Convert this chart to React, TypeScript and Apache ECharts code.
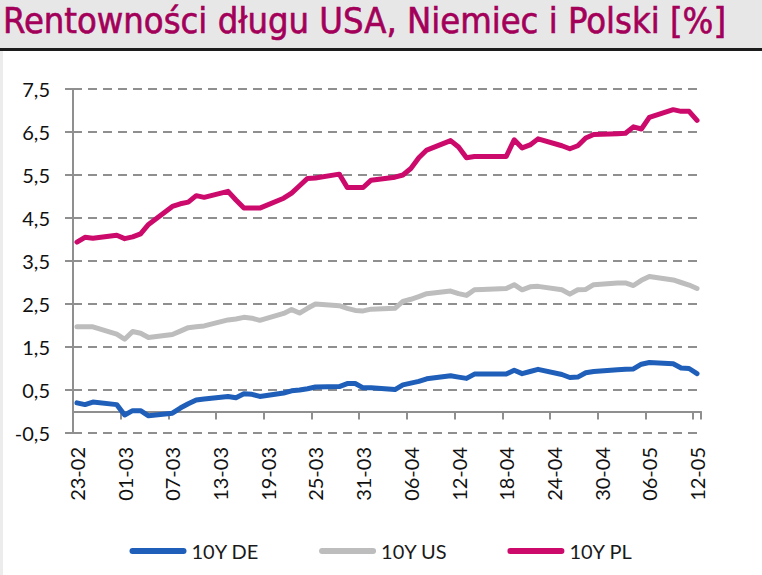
import React, { useEffect, useRef } from "react";
import * as echarts from "echarts";

// Calendar days 23-02 .. 12-05 (weekends carry no quotes)
const startDate = new Date(2022, 1, 23);
const dayCount = 79;
const categories: string[] = Array.from({ length: dayCount }, (_, i) => {
  const d = new Date(startDate.getFullYear(), startDate.getMonth(), startDate.getDate() + i);
  const dd = String(d.getDate()).padStart(2, "0");
  const mm = String(d.getMonth() + 1).padStart(2, "0");
  return `${dd}-${mm}`;
});

const N = null;

// 10Y Bund yield [%]
const yieldDE = [
  0.2, 0.16, 0.22, N, N, 0.16, -0.08, 0.02, 0.02, -0.1, N, N,
  -0.04, 0.08, 0.18, 0.27, 0.29, N, N,
  0.35, 0.32, 0.41, 0.4, 0.35, N, N,
  0.43, 0.48, 0.5, 0.53, 0.57, N, N,
  0.58, 0.65, 0.65, 0.55, 0.55, N, N,
  0.51, 0.62, 0.66, 0.7, 0.76, N, N,
  0.83, 0.8, 0.77, 0.87, 0.87, N, N,
  0.87, 0.96, 0.88, 0.93, 0.98, N, N,
  0.86, 0.79, 0.8, 0.9, 0.93, N, N,
  0.97, 0.98, 0.99, 1.1, 1.14, N, N,
  1.11, 1.01, 1.0, 0.88,
];

// 10Y US Treasury yield [%]
const yieldUS = [
  1.97, 1.97, 1.97, N, N, 1.8, 1.68, 1.86, 1.82, 1.72, N, N,
  1.79, 1.87, 1.95, 1.97, 1.99, N, N,
  2.13, 2.15, 2.19, 2.17, 2.12, N, N,
  2.28, 2.37, 2.29, 2.4, 2.5, N, N,
  2.46, 2.4, 2.35, 2.34, 2.38, N, N,
  2.4, 2.56, 2.61, 2.67, 2.74, N, N,
  2.8, 2.74, 2.7, 2.83, 2.84, N, N,
  2.86, 2.95, 2.83, 2.9, 2.91, N, N,
  2.83, 2.73, 2.83, 2.84, 2.95, N, N,
  2.99, 2.99, 2.93, 3.05, 3.14, N, N,
  3.06, 3.0, 2.94, 2.86,
];

// 10Y Polish government bond yield [%]
const yieldPL = [
  3.94, 4.05, 4.03, N, N, 4.1, 4.02, 4.06, 4.13, 4.35, N, N,
  4.77, 4.83, 4.87, 5.02, 4.98, N, N,
  5.12, 4.92, 4.73, 4.73, 4.73, N, N,
  4.96, 5.08, 5.25, 5.42, 5.43, N, N,
  5.52, 5.21, 5.21, 5.21, 5.38, N, N,
  5.45, 5.5, 5.65, 5.9, 6.08, N, N,
  6.3, 6.15, 5.9, 5.93, 5.93, N, N,
  5.93, 6.32, 6.13, 6.2, 6.34, N, N,
  6.18, 6.11, 6.18, 6.36, 6.44, N, N,
  6.46, 6.47, 6.62, 6.57, 6.84, N, N,
  7.02, 6.98, 6.98, 6.77,
];

const seriesNames = ["10Y DE", "10Y US", "10Y PL"];
const seriesColors = ["#1f5fb9", "#bdbdbd", "#cc0a6c"];
const titleText = "Rentowności długu USA, Niemiec i Polski [%]";

const FONT = "Lato, 'Open Sans', sans-serif";
const AXIS_GREY = "#8f8f8f";

export default function App() {
  const ref = useRef<HTMLDivElement>(null);

  useEffect(() => {
    document.body.style.margin = "0";
    if (!ref.current) return;
    const chart = echarts.init(ref.current, undefined, { renderer: "svg" });
    const values = [yieldDE, yieldUS, yieldPL];

    chart.setOption({
      animation: false,
      backgroundColor: "#ffffff",
      graphic: [
        { type: "rect", shape: { x: 0, y: 0, width: 762, height: 48 }, style: { fill: "#e7e7e7" }, z: 0 },
        { type: "rect", shape: { x: 0, y: 48, width: 762, height: 3 }, style: { fill: "#1c1c1c" }, z: 0 },
        { type: "rect", shape: { x: 0, y: 51, width: 3, height: 524 }, style: { fill: "#ececec" }, z: 0 },
        {
          type: "text",
          x: 3,
          y: 2,
          z: 1,
          style: {
            text: titleText,
            fill: "#a3005a",
            stroke: "#a3005a",
            lineWidth: 0.6,
            fontSize: 36,
            fontFamily: "'DejaVu Sans Condensed', 'DejaVu Sans', sans-serif",
            verticalAlign: "top",
          },
        },
      ],
      grid: { left: 73, right: 61, top: 89, bottom: 142, containLabel: false },
      legend: {
        data: seriesNames,
        left: "center",
        top: 536,
        icon: "path://M3,0L54,0A3,3,0,0,1,54,6L3,6A3,3,0,0,1,3,0Z",
        itemWidth: 57,
        itemHeight: 6,
        itemGap: 60,
        textStyle: { fontFamily: FONT, fontSize: 20, color: "#1a1a1a" },
      },
      xAxis: [
        {
          type: "category",
          data: categories,
          boundaryGap: true,
          position: "bottom",
          axisLine: { onZero: true, lineStyle: { color: AXIS_GREY, width: 2 } },
          axisTick: { show: true, interval: 5, length: 8, lineStyle: { color: AXIS_GREY, width: 2 } },
          axisLabel: { show: false },
          splitLine: { show: false },
        },
        {
          type: "category",
          data: categories,
          boundaryGap: true,
          position: "bottom",
          axisLine: { show: false },
          axisTick: { show: false },
          axisLabel: {
            interval: 5,
            rotate: 90,
            margin: 14,
            fontFamily: FONT,
            fontSize: 20,
            color: "#111111",
          },
          splitLine: { show: false },
        },
      ],
      yAxis: {
        type: "value",
        min: -0.5,
        max: 7.5,
        interval: 1,
        axisLine: { show: true, lineStyle: { color: AXIS_GREY, width: 2 } },
        axisTick: { show: true, length: 8, lineStyle: { color: AXIS_GREY, width: 2 } },
        axisLabel: {
          margin: 23,
          fontFamily: FONT,
          fontSize: 20,
          color: "#111111",
          formatter: (v: number) => v.toFixed(1).replace(".", ","),
        },
        splitLine: { show: true, lineStyle: { color: AXIS_GREY, width: 2, type: [9, 6] } },
      },
      series: seriesNames.map((name, k) => ({
        name,
        type: "line",
        xAxisIndex: 0,
        data: values[k],
        connectNulls: true,
        symbol: "none",
        color: seriesColors[k],
        lineStyle: { width: 5, color: seriesColors[k], cap: "round", join: "round" },
        z: 3 + k,
      })),
    });

    return () => chart.dispose();
  }, []);

  return <div ref={ref} style={{ width: 762, height: 575 }} />;
}
